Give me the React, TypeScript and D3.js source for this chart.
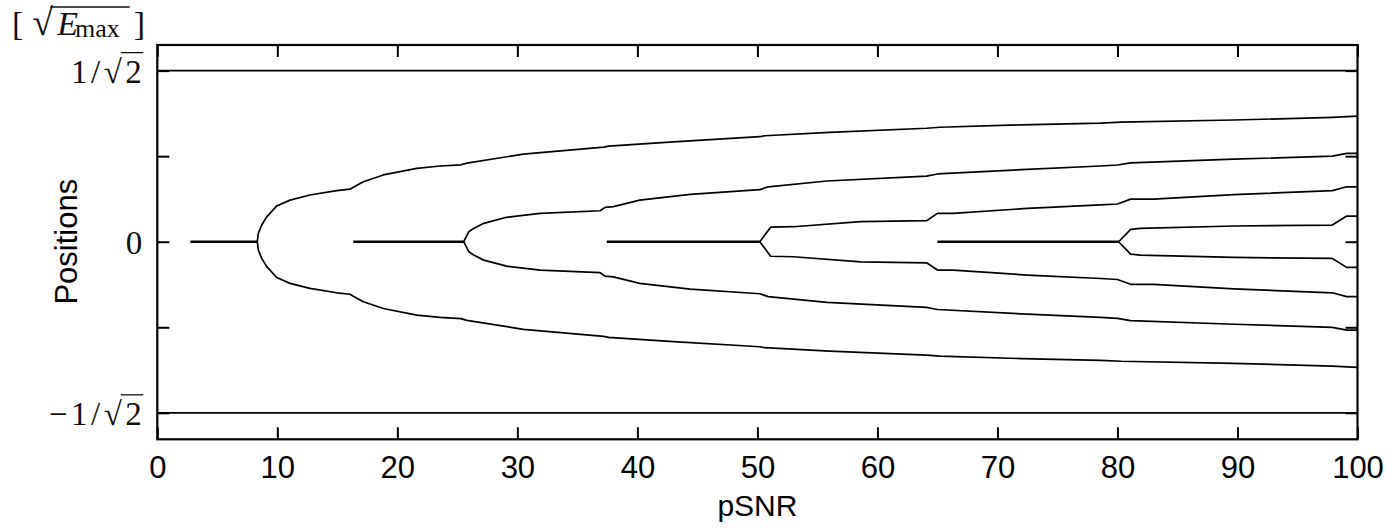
import * as d3 from 'd3'
import { useEffect, useRef } from 'react'

// pSNR axis ticks
const xTickValues = [0, 10, 20, 30, 40, 50, 60, 70, 80, 90, 100]
// position ticks (in units of sqrt(E_max))
const yTickValues = [-Math.SQRT1_2, -Math.SQRT1_2 / 2, 0, Math.SQRT1_2 / 2, Math.SQRT1_2]
const limitValues = [-Math.SQRT1_2, Math.SQRT1_2]

// pSNR ranges where a position sits at 0
const zeroRuns = [[2.75, 8.33], [16.33, 25.53], [37.45, 50.2], [65.0, 80.1]]

// upper branches [pSNR, position]; lower branches are the mirror image
const branchA = [[8.33, 0], [8.42, 0.035], [8.7, 0.069], [9.12, 0.103], [9.95, 0.148], [11.06, 0.172],
  [12.72, 0.193], [14.95, 0.211], [16.06, 0.217], [16.33, 0.225], [17.17, 0.248], [18.83, 0.276],
  [21.62, 0.303], [23.56, 0.313], [25.3, 0.318], [25.8, 0.325], [30.5, 0.362], [37.2, 0.391],
  [37.6, 0.395], [43, 0.413], [50.2, 0.434], [50.6, 0.438], [56, 0.452], [64.1, 0.469],
  [65.2, 0.473], [72, 0.483], [78.6, 0.49], [80.3, 0.494], [89.7, 0.503], [97.9, 0.514], [100, 0.519]]
const branchB = [[25.53, 0], [25.95, 0.041], [26.36, 0.055], [27.2, 0.076], [29.1, 0.101], [31.9, 0.117],
  [36.9, 0.128], [37.3, 0.142], [38.0, 0.145], [40.2, 0.172], [44.4, 0.196], [50.2, 0.215],
  [50.9, 0.227], [55.8, 0.251], [64.1, 0.271], [65.0, 0.28], [72, 0.298], [78.6, 0.313],
  [80.0, 0.317], [81.1, 0.326], [89.7, 0.341], [97.9, 0.354], [99.1, 0.365], [100, 0.365]]
const branchC = [[50.2, 0], [51.1, 0.06], [53.0, 0.062], [58.6, 0.083], [64.1, 0.087], [65.0, 0.117],
  [66.3, 0.117], [72.5, 0.138], [78.6, 0.152], [80.0, 0.156], [81.1, 0.176], [83.0, 0.176],
  [89.7, 0.195], [97.9, 0.211], [99.1, 0.227], [100, 0.227]]
const branchD = [[80.1, 0], [81.1, 0.051], [81.9, 0.055], [89.7, 0.065], [97.9, 0.069], [99.1, 0.106], [100, 0.106]]

const branches = [branchA, branchB, branchC, branchD]

const W = 1391, H = 528
const SERIF = '"Liberation Serif", serif'
const SANS = '"Liberation Sans", Arial, sans-serif'

function drawChart(svgEl) {
  const svg = d3.select(svgEl)
  svg.selectAll('*').remove()

  const x = d3.scaleLinear().domain([0, 100]).range([157.3, 1357.5])
  const y = d3.scaleLinear().domain([-0.8165, 0.813]).range([439.3, 45])
  const [x0, x1] = x.range()
  const [y0, y1] = y.range()

  // axes, ticks pointing inwards
  svg.append('g').attr('transform', `translate(0,${y0})`)
    .call(d3.axisBottom(x).tickValues(xTickValues).tickSize(-12).tickPadding(17))
    .call(g => g.select('.domain').remove())
    .call(g => g.selectAll('line').attr('stroke-width', 2))
    .call(g => g.selectAll('text').attr('font-family', SANS).attr('font-size', 31).attr('fill', '#000'))
  svg.append('g').attr('transform', `translate(0,${y1})`)
    .call(d3.axisTop(x).tickValues(xTickValues).tickSize(-12).tickFormat(() => ''))
    .call(g => g.select('.domain').remove())
    .call(g => g.selectAll('line').attr('stroke-width', 2))
  svg.append('g').attr('transform', `translate(${x0},0)`)
    .call(d3.axisLeft(y).tickValues(yTickValues).tickSize(-12).tickFormat(() => ''))
    .call(g => g.select('.domain').remove())
    .call(g => g.selectAll('line').attr('stroke-width', 2))
  svg.append('g').attr('transform', `translate(${x1},0)`)
    .call(d3.axisRight(y).tickValues(yTickValues).tickSize(-12).tickFormat(() => ''))
    .call(g => g.select('.domain').remove())
    .call(g => g.selectAll('line').attr('stroke-width', 2))

  // +-1/sqrt(2) limits
  svg.selectAll('line.limit').data(limitValues).enter().append('line')
    .attr('class', 'limit')
    .attr('x1', x0).attr('x2', x1)
    .attr('y1', d => y(d)).attr('y2', d => y(d))
    .attr('stroke', '#000').attr('stroke-width', 1.8)

  const line = d3.line().x(d => x(d[0])).y(d => y(d[1]))

  // zero positions
  svg.selectAll('path.zero').data(zeroRuns).enter().append('path')
    .attr('class', 'zero')
    .attr('d', d => line([[d[0], 0], [d[1], 0]]))
    .attr('fill', 'none').attr('stroke', '#000').attr('stroke-width', 2.6)

  // branches, both signs
  const allBranches = branches.flatMap(b => [b, b.map(([p, v]) => [p, -v])])
  svg.selectAll('path.branch').data(allBranches).enter().append('path')
    .attr('class', 'branch')
    .attr('d', line)
    .attr('fill', 'none').attr('stroke', '#000').attr('stroke-width', 1.7)
    .attr('stroke-linejoin', 'round')

  // frame
  svg.append('rect')
    .attr('x', x0).attr('y', y1).attr('width', x1 - x0).attr('height', y0 - y1)
    .attr('fill', 'none').attr('stroke', '#000').attr('stroke-width', 2.2)

  // y tick labels (LaTeX-like)
  const labelRight = x0 - 12
  const sqrtLabel = (value, prefix) => {
    const t = svg.append('text')
      .attr('x', labelRight).attr('y', y(value) + 12)
      .attr('text-anchor', 'end')
      .attr('font-family', SERIF).attr('font-size', 33)
      .attr('letter-spacing', 3.5)
      .attr('fill', '#111')
      .text(prefix + '1/\u221A2')
    const n = t.text().length
    const r = t.node().getExtentOfChar(n - 1)
    const s = t.node().getExtentOfChar(n - 2)
    svg.append('line')
      .attr('x1', s.x + s.width - 4.5).attr('x2', r.x + r.width - 2)
      .attr('y1', y(value) + 12 - 30).attr('y2', y(value) + 12 - 30)
      .attr('stroke', '#111').attr('stroke-width', 1.3)
  }
  sqrtLabel(Math.SQRT1_2, '')
  sqrtLabel(-Math.SQRT1_2, '\u2212')
  svg.append('text')
    .attr('x', labelRight - 3).attr('y', y(0) + 12)
    .attr('text-anchor', 'end')
    .attr('font-family', SERIF).attr('font-size', 33).attr('fill', '#111')
    .text('0')

  // unit label [ sqrt(E_max) ]
  const unit = svg.append('text')
    .attr('x', 12).attr('y', 35)
    .attr('font-family', SERIF).attr('font-size', 34).attr('fill', '#111')
  unit.append('tspan').text('[')
  unit.append('tspan').attr('dx', 9).attr('font-size', 38).text('\u221A')
  unit.append('tspan').attr('dx', 4).attr('font-style', 'italic').text('E')
  unit.append('tspan').attr('dx', -3).attr('dy', 2).attr('font-size', 26).text('max')
  unit.append('tspan').attr('dx', 14).attr('dy', -2).text(']')
  const un = unit.node()
  const sq = un.getExtentOfChar(1)
  const cl = un.getExtentOfChar(6)
  svg.append('line')
    .attr('x1', sq.x + sq.width - 3).attr('x2', cl.x - 4)
    .attr('y1', 7).attr('y2', 7)
    .attr('stroke', '#111').attr('stroke-width', 1.3)

  // axis titles
  svg.append('text')
    .attr('x', d3.mean(x.domain().map(x))).attr('y', 516)
    .attr('text-anchor', 'middle')
    .attr('font-family', SANS).attr('font-size', 30).attr('fill', '#000')
    .text('pSNR')
  svg.append('text')
    .attr('transform', `translate(77,${y(0)}) rotate(-90)`)
    .attr('text-anchor', 'middle')
    .attr('font-family', SANS).attr('font-size', 31).attr('fill', '#000')
    .text('Positions')
}

export default function App() {
  const ref = useRef(null)
  useEffect(() => {
    drawChart(ref.current)
  })

  return (
    <svg ref={ref} width={W} height={H}
      style={{ position: 'absolute', left: 0, top: 0, background: '#fff' }}>
    </svg>
  )
}
